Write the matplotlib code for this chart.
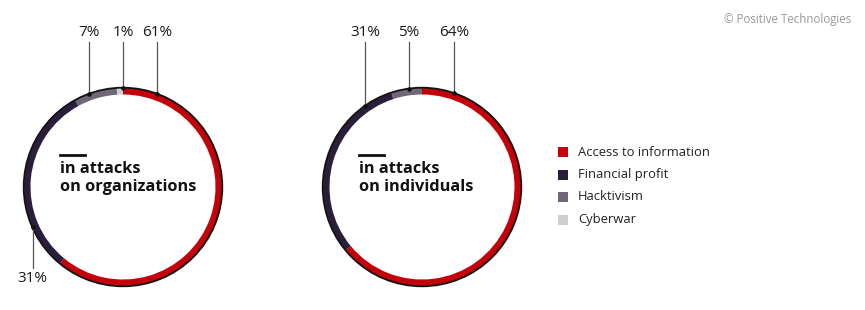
import math
import matplotlib.pyplot as plt
from matplotlib.patches import Circle

plt.rcParams['font.family'] = ['Open Sans', 'DejaVu Sans']

categories = ['Access to information', 'Financial profit', 'Hacktivism', 'Cyberwar']
colors = ['#c4000b', '#2a1f3b', '#6f6677', '#cfcfcf']

org_values = [61, 31, 7, 1]
ind_values = [64, 31, 5, 0]

org_title = 'in attacks\non organizations'
ind_title = 'in attacks\non individuals'

W, H = 865, 310
fig = plt.figure(figsize=(W / 100, H / 100), dpi=100)
ax = fig.add_axes([0, 0, 1, 1])


def donut(cx, cy, values, title, anchors):
    # anchors: (category index, angle clockwise from top, label x, label y)
    r = 99
    ax.pie(values, colors=colors, startangle=90, counterclock=False,
           radius=r, center=(cx, cy),
           wedgeprops=dict(width=6.5, linewidth=0))
    ax.add_patch(Circle((cx, cy), r + 0.3, fill=False, ec='#111111', lw=1.3, zorder=5))
    for idx, ang, lx, ly in anchors:
        a = math.radians(ang)
        px = cx + r * math.sin(a)
        py = cy + r * math.cos(a)
        ax.plot([px, px], [py, ly], color='#555555', lw=0.9, zorder=6)
        ax.plot(px, py, 'o', color='#111111', ms=2.3, zorder=7)
        off = 10 if ly > py else -10
        ax.text(px, ly + off, f'{values[idx]}%', ha='center', va='center',
                fontsize=11, color='#1a1a1a')
    # title with short bar
    tx = cx - 63
    ax.plot([tx, tx + 25], [cy + 32, cy + 32], color='#111111', lw=2)
    ax.text(tx, cy + 9, title, ha='left', va='center', fontsize=11.8,
            fontweight='bold', color='#111111', linespacing=1.15)


donut(123, 123, org_values, org_title,
      [(0, 20, 157, 268), (3, 0, 123, 268), (2, 340, 89, 268), (1, 246, 33, 42)])
donut(422, 123, ind_values, ind_title,
      [(0, 19, 454, 268), (2, 352.5, 409, 268), (1, 325, 365, 268)])

ax.set_xlim(0, W)
ax.set_ylim(0, H)
ax.set_aspect('equal')
ax.axis('off')

# legend
for i, (cat, col) in enumerate(zip(categories, colors)):
    y = H - (152 + i * 22.5)
    ax.add_patch(plt.Rectangle((558, y - 5), 10, 10, color=col, lw=0))
    ax.text(578, y, cat, ha='left', va='center', fontsize=9.4, color='#222222')

ax.text(851, H - 19, '© Positive Technologies', ha='right', va='center',
        fontsize=8.3, color='#999999')

fig.savefig('out.png', dpi=100)
